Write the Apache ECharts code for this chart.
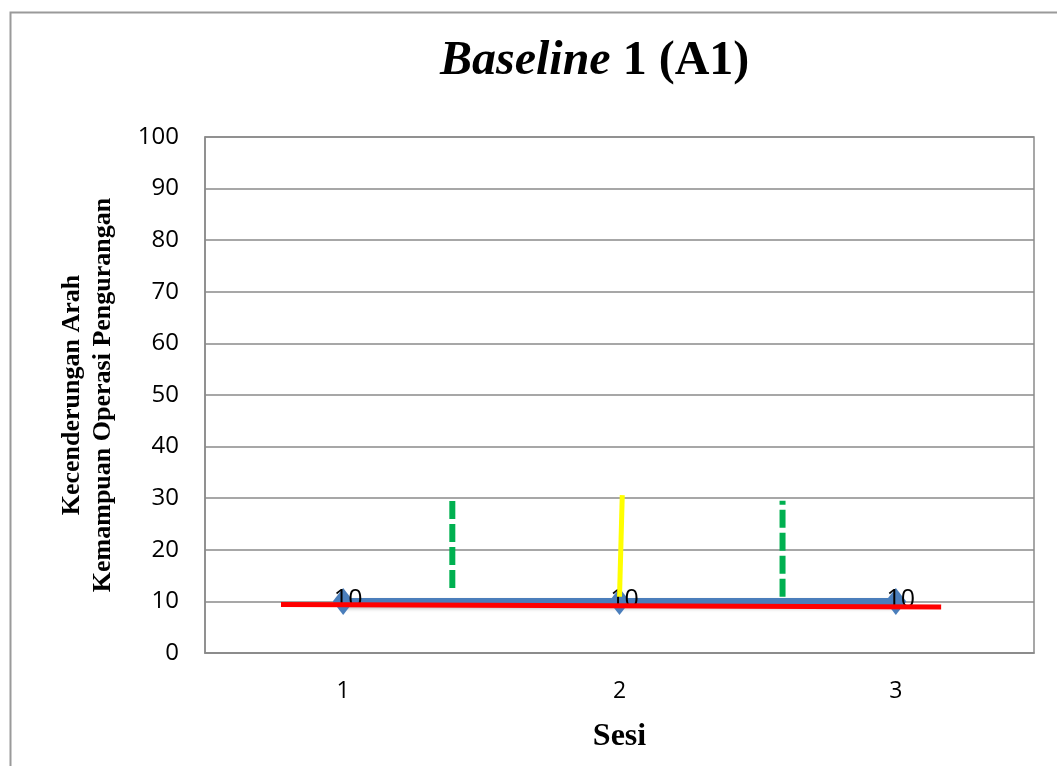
<!DOCTYPE html>
<html>
<head>
<meta charset="utf-8">
<script src="https://cdn.jsdelivr.net/npm/echarts@6/dist/echarts.min.js"></script>
<style>html,body{margin:0;padding:0;background:#fff}#c{width:1057px;height:766px}</style>
</head>
<body>
<div id="c"></div>
<script>
const categories = ['1', '2', '3'];
const scores = [10, 10, 10];
const yTicks = [0, 10, 20, 30, 40, 50, 60, 70, 80, 90, 100];
// overlay lines, x in session units (1..3), y in score units
const trendLine = [[0.775, 9.4], [3.164, 8.9]];
const medianLine = [[2.0, 10.9], [2.01, 30.6]];
const bandLeft = [[1.395, 12.6], [1.395, 29.8]];
const bandRight = [[2.59, 10.9], [2.59, 29.5]];

const chart = echarts.init(document.getElementById('c'), null, {renderer: 'canvas'});
const gridColor = '#8a8a8a';
const overlay = (data, color, width, type, z) => ({
  type: 'line', xAxisIndex: 1, data: data, showSymbol: false, symbol: 'none',
  lineStyle: {color: color, width: width, type: type, cap: 'butt'}, z: z, silent: true,
  animation: false
});
chart.setOption({
  animation: false,
  graphic: [{
    type: 'rect', left: 8, top: 10, shape: {width: 1200, height: 900},
    style: {fill: 'none', stroke: '#9a9a9a', lineWidth: 2}, z: -1
  }],
  title: {
    left: 435, top: 33,
    text: '{i|Baseline}{b| 1 (A1)}',
    textStyle: {
      rich: {
        i: {fontFamily: 'Liberation Serif', fontSize: 48, fontWeight: 'bold', fontStyle: 'italic', color: '#000', lineHeight: 48},
        b: {fontFamily: 'Liberation Serif', fontSize: 48, fontWeight: 'bold', color: '#000', lineHeight: 48}
      }
    }
  },
  grid: {left: 205, right: 23, top: 137, bottom: 113, show: true, borderColor: gridColor, borderWidth: 1.5},
  xAxis: [{
    type: 'category', data: categories, boundaryGap: true,
    axisLine: {lineStyle: {color: gridColor, width: 1.5}},
    axisTick: {show: false},
    axisLabel: {color: '#000', fontFamily: 'Open Sans', fontSize: 23, margin: 27},
    name: 'Sesi', nameLocation: 'middle', nameGap: 68,
    nameTextStyle: {fontFamily: 'Liberation Serif', fontWeight: 'bold', fontSize: 32, color: '#000', lineHeight: 32}
  }, {
    type: 'value', min: 0.5, max: 3.5, show: false
  }],
  yAxis: {
    type: 'value', min: yTicks[0], max: yTicks[yTicks.length - 1], interval: 10,
    axisLine: {show: true, lineStyle: {color: gridColor, width: 1.5}},
    axisTick: {show: false},
    splitLine: {lineStyle: {color: gridColor, width: 1.5}},
    axisLabel: {color: '#000', fontFamily: 'Open Sans', fontSize: 24, margin: 26},
    name: 'Kecenderungan Arah\nKemampuan Operasi Pengurangan',
    nameLocation: 'middle', nameRotate: 90, nameGap: 86,
    nameTextStyle: {fontFamily: 'Liberation Serif', fontWeight: 'bold', fontSize: 26, color: '#000', lineHeight: 31}
  },
  series: [
    {
      type: 'line', data: scores, symbol: 'diamond', symbolSize: [21, 27],
      itemStyle: {color: '#4a7ebb'},
      lineStyle: {color: '#4a7ebb', width: 7, shadowColor: 'rgba(0,0,0,0.35)', shadowBlur: 4, shadowOffsetY: 3},
      label: {show: true, position: 'inside', offset: [5, -2], color: '#000', fontFamily: 'Open Sans', fontSize: 25},
      z: 2
    },
    overlay(bandLeft, '#00b050', 6, [18, 5], 3),
    overlay(bandRight, '#00b050', 6, [18, 5], 3),
    overlay(medianLine, '#ffff00', 5, 'solid', 4),
    overlay(trendLine, '#ff0000', 5, 'solid', 5)
  ]
});
</script>
</body>
</html>
